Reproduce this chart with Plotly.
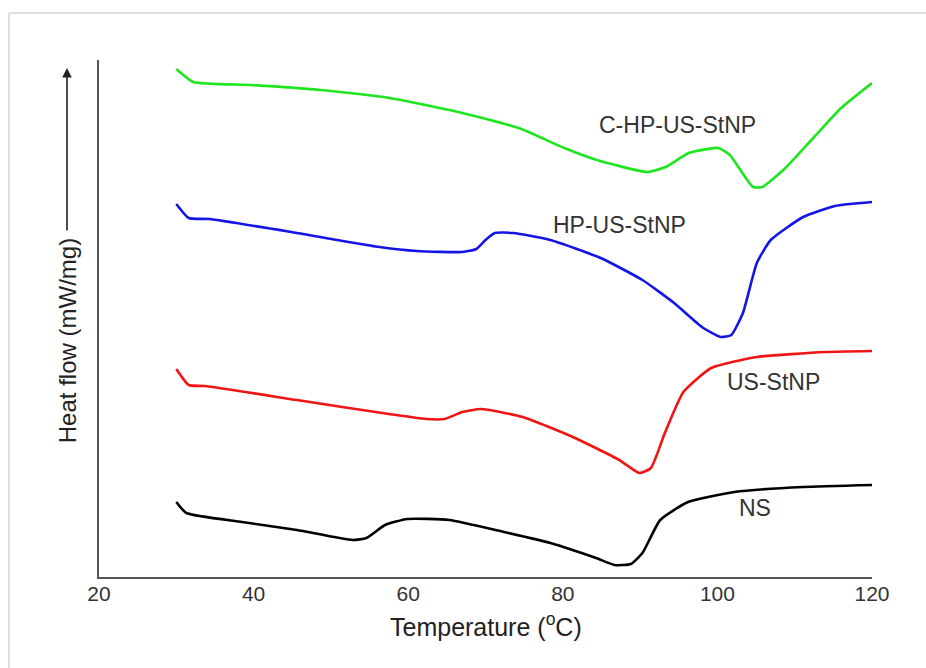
import plotly.graph_objects as go

# Temperature (°C) and heat flow (arbitrary units, curves offset vertically)
t_chp = [30, 32.2, 39.7, 48.6, 57.6, 66.5, 74.3, 80.2, 84.4, 90.9, 93.3, 96.3, 100.1, 101.6, 104.6, 105.8, 108.8, 112.4, 116, 120]
hf_chp = [50.8, 49.5, 49.2, 48.7, 47.9, 46.5, 44.9, 42.9, 41.7, 40.5, 41.0, 42.4, 42.9, 42.2, 39.0, 39.0, 40.9, 43.9, 46.9, 49.4]

t_hp = [30, 31.6, 34.3, 45.6, 56.3, 61.1, 67, 68.8, 70, 71.2, 73.6, 78.4, 84.9, 90.3, 94.4, 98, 100.4, 101.8, 103.3, 105.1, 106.9, 111.1, 115.2, 120]
hf_hp = [37.3, 35.9, 35.8, 34.4, 33.0, 32.6, 32.5, 32.8, 33.7, 34.4, 34.4, 33.7, 31.9, 29.7, 27.4, 25.0, 24.0, 24.2, 26.4, 31.4, 33.7, 36.0, 37.1, 37.5]

t_us = [30, 31.6, 33.7, 45.6, 57.5, 62.3, 64.7, 67, 69.4, 74.8, 81.3, 87.3, 89.9, 91.4, 93.2, 95.6, 99.2, 105.1, 114, 120]
hf_us = [20.8, 19.2, 19.1, 17.7, 16.3, 15.8, 15.8, 16.5, 16.8, 16.0, 14.0, 11.7, 10.4, 10.9, 14.4, 18.5, 20.9, 22.0, 22.5, 22.6]

t_ns = [30, 31.3, 38.5, 45.6, 52.8, 54.6, 57, 59.9, 65.3, 72.4, 78.4, 84.3, 86.7, 88.8, 90.3, 92.6, 96.2, 102.2, 111.1, 120]
hf_ns = [7.5, 6.4, 5.5, 4.7, 3.7, 3.9, 5.2, 5.8, 5.7, 4.5, 3.4, 1.9, 1.2, 1.3, 2.4, 5.7, 7.5, 8.5, 9.0, 9.2]

series_names = ["C-HP-US-StNP", "HP-US-StNP", "US-StNP", "NS"]
series_colors = ["#1ee61e", "#1414e6", "#f01414", "#000000"]
label_t = [94.8, 87.3, 107.3, 104.8]
label_hf = [45.2, 35.2, 19.5, 6.9]

x_ticks = [20, 40, 60, 80, 100, 120]

FONT = "Liberation Sans, Arial, sans-serif"

fig = go.Figure()
for t, hf, name, col in zip([t_chp, t_hp, t_us, t_ns], [hf_chp, hf_hp, hf_us, hf_ns], series_names, series_colors):
    fig.add_trace(go.Scatter(x=t, y=hf, mode="lines", name=name,
                             line=dict(color=col, width=2.6, shape="spline", smoothing=0.5),
                             showlegend=False, hoverinfo="skip"))

for name, lt, lh in zip(series_names, label_t, label_hf):
    fig.add_annotation(x=lt, y=lh, text=name, showarrow=False, xanchor="center", yanchor="middle",
                       font=dict(family=FONT, size=23, color="#333333"))

# y-axis title with arrow
fig.add_annotation(xref="paper", yref="paper", x=-0.0414, y=0.458, text="Heat flow (mW/mg)",
                   textangle=-90, showarrow=False, xanchor="center", yanchor="middle",
                   font=dict(family=FONT, size=24, color="#222222"))
fig.add_annotation(xref="paper", yref="paper", x=-0.0414, y=0.9845, text="",
                   showarrow=True, ax=0, ay=164, arrowhead=2, arrowsize=1.2, arrowwidth=1.6,
                   arrowcolor="#222222")
# x-axis title
fig.add_annotation(xref="paper", yref="paper", x=0.5, y=-0.093, text="Temperature (<sup>o</sup>C)",
                   showarrow=False, xanchor="center", yanchor="middle",
                   font=dict(family=FONT, size=25, color="#222222"))

# light frame of the original image
fig.add_shape(type="line", xref="paper", yref="paper", x0=-0.1164, x1=1.1, y0=1.0909, y1=1.0909,
              line=dict(color="#d4d4d4", width=1.5))
fig.add_shape(type="line", xref="paper", yref="paper", x0=-0.1164, x1=-0.1164, y0=-0.2, y1=1.0909,
              line=dict(color="#d4d4d4", width=1.5))

fig.update_layout(
    width=926, height=668,
    margin=dict(l=99, r=54, t=60, b=91),
    paper_bgcolor="white", plot_bgcolor="white",
    xaxis=dict(range=[20, 120], tickvals=x_ticks, ticktext=[str(v) for v in x_ticks],
               showgrid=False, zeroline=False, showline=True, linecolor="#555555", linewidth=2,
               ticks="", ticklabelstandoff=-3, tickfont=dict(family=FONT, size=21, color="#333333")),
    yaxis=dict(range=[0, 51.7], showgrid=False, zeroline=False, showline=True,
               linecolor="#555555", linewidth=2, showticklabels=False, ticks=""),
)

fig.write_html("out.html")
